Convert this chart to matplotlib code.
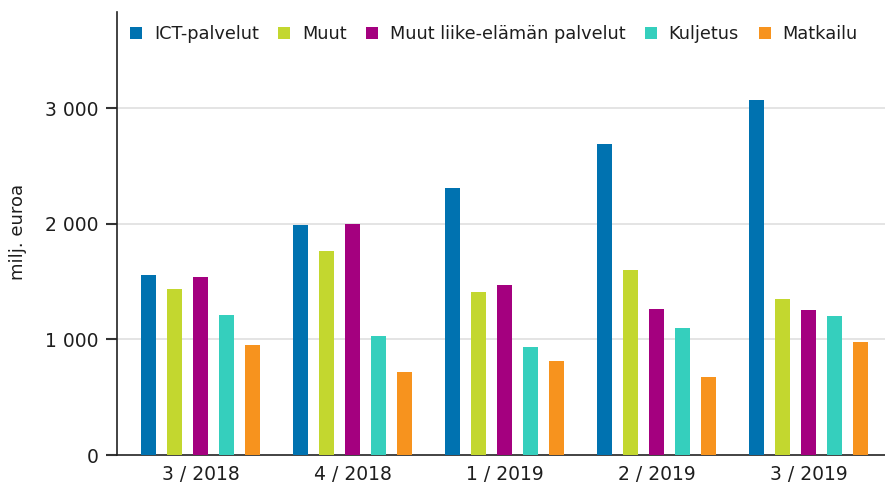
import matplotlib
matplotlib.use("Agg")
import matplotlib.pyplot as plt
import numpy as np

categories = ["3 / 2018", "4 / 2018", "1 / 2019", "2 / 2019", "3 / 2019"]
series_names = ["ICT-palvelut", "Muut", "Muut liike-elämän palvelut", "Kuljetus", "Matkailu"]
ict = [1561, 1994, 2312, 2693, 3074]
muut = [1440, 1769, 1411, 1604, 1353]
liike = [1541, 1997, 1472, 1261, 1253]
kuljetus = [1215, 1028, 935, 1097, 1201]
matkailu = [952, 719, 814, 675, 978]
colors = ["#0072B0", "#C3D72F", "#A4007F", "#35CFBD", "#F7931E"]
yticks = [0, 1000, 2000, 3000]
yticklabels = ["0", "1 000", "2 000", "3 000"]

plt.rcParams["font.family"] = ["DejaVu Sans"]
txt = "#1e1e1e"

fig = plt.figure(figsize=(8.85, 4.86), dpi=100)
ax = fig.add_axes([117/885, (486-455)/486, 1 - 117/885, (455-12)/486])

data = [ict, muut, liike, kuljetus, matkailu]
x = np.arange(len(categories))
step = 0.171
width = 0.1
for i, (vals, name, c) in enumerate(zip(data, series_names, colors)):
    ax.bar(x + (i - 2) * step, vals, width=width, color=c, label=name, zorder=3)

ax.set_xlim(-0.549, 4.503)
ax.set_ylim(0, 3835)
ax.set_yticks(yticks)
ax.set_yticklabels(yticklabels, fontsize=13.5, color=txt)
ax.set_xticks(x)
ax.set_xticklabels(categories, fontsize=13.5, color=txt)
ax.tick_params(axis="x", length=0, pad=7)
ax.tick_params(axis="y", length=8, width=1.5, color="#333333", pad=5.5)
ax.yaxis.grid(True, color="#e2e2e2", linewidth=1.3, zorder=0)
for yt, gl in zip(yticks, ax.yaxis.get_gridlines()):
    if yt == 0:
        gl.set_visible(False)
for s in ["top", "right"]:
    ax.spines[s].set_visible(False)
ax.spines["left"].set_color("#222222")
ax.spines["left"].set_linewidth(1.2)
ax.spines["bottom"].set_color("#222222")
ax.spines["bottom"].set_linewidth(1.2)
ax.set_ylabel("milj. euroa", fontsize=13, color=txt)
ax.yaxis.set_label_coords(-0.117, 0.503)

leg = ax.legend(loc="upper left", bbox_to_anchor=(0.0, 1.0), ncol=5, frameon=False,
                fontsize=12.8, handlelength=0.68, handleheight=0.68, handletextpad=0.65,
                columnspacing=1.1, borderaxespad=0.35, borderpad=0.4)
for t in leg.get_texts():
    t.set_color(txt)

fig.savefig("out.png", dpi=100)
